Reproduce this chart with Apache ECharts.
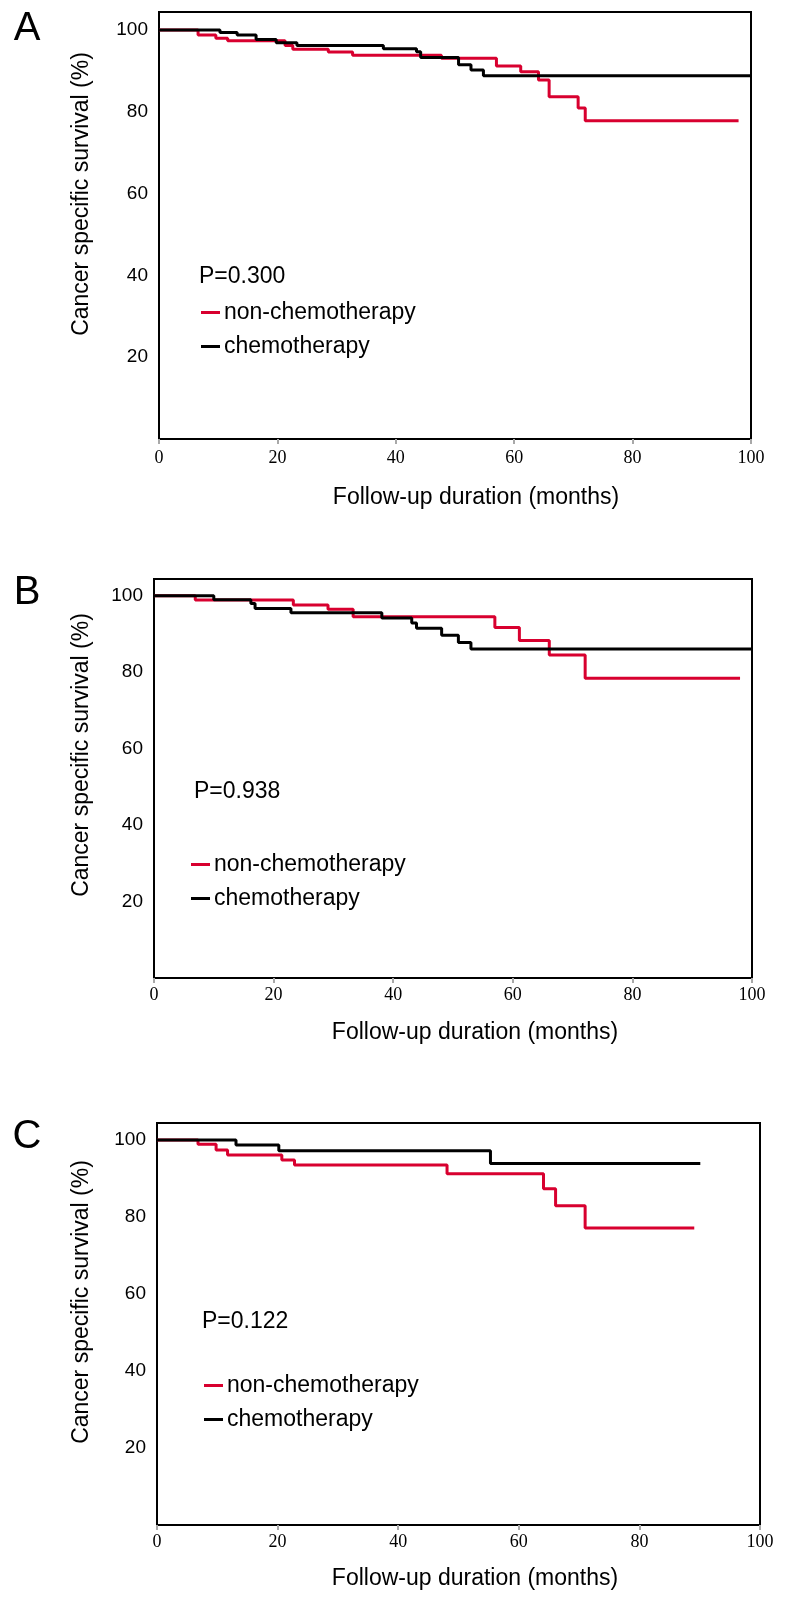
<!DOCTYPE html>
<html>
<head>
<meta charset="utf-8">
<script src="https://cdn.jsdelivr.net/npm/echarts@6/dist/echarts.min.js"></script>
<style>
  body { margin: 0; background: #fff; }
  #chart { width: 787px; height: 1603px; }
</style>
</head>
<body>
<div id="chart"></div>
<script>
const seriesNames = ['non-chemotherapy', 'chemotherapy'];
const panelLabels = ['A', 'B', 'C'];
const pValues = ['P=0.300', 'P=0.938', 'P=0.122'];
const xTitle = 'Follow-up duration (months)';
const yTitle = 'Cancer specific survival (%)';

// [month, survival %]
const nonChemoA = [[0,100],[6.6,98.8],[9.6,98.0],[11.6,97.4],[21.3,96.2],[22.6,95.3],[28.6,94.6],[32.7,93.8],[47.7,93.1],[57,91.2],[61.1,89.8],[64.1,87.8],[65.9,83.7],[70.8,80.9],[72.0,77.8],[97.9,77.8]];
const chemoA = [[0,100],[10.3,99.4],[13.2,98.8],[16.4,97.7],[19.8,96.9],[23.3,96.2],[37.9,95.4],[43.5,94.7],[44.2,93.3],[50.6,91.5],[52.7,90.2],[54.8,88.8],[100,88.8]];

const nonChemoB = [[0,100],[6.9,98.9],[23.3,97.6],[29.1,96.5],[33.3,94.5],[57.0,91.7],[61.1,88.3],[66.1,84.5],[72.1,78.4],[98.0,78.4]];
const chemoB = [[0,100],[10.0,99.0],[16.2,98.0],[16.9,96.7],[22.9,95.6],[38.1,94.2],[43.1,92.9],[43.9,91.5],[48.1,89.7],[50.9,87.8],[53.0,86.1],[100,86.1]];

const nonChemoC = [[0,100],[6.8,98.9],[9.8,97.4],[11.7,96.1],[20.7,94.8],[22.8,93.5],[48.1,91.2],[64.1,87.3],[66.1,82.9],[71.0,77.1],[89.1,77.1]];
const chemoC = [[0,100],[13.1,98.7],[20.2,97.2],[55.3,93.9],[90.1,93.9]];

const panelData = [[nonChemoA, chemoA], [nonChemoB, chemoB], [nonChemoC, chemoC]];

// layout of each panel (pixels)
const grids = [
  {left: 159, top: 12, width: 592, height: 427},
  {left: 154, top: 579, width: 598, height: 399},
  {left: 157, top: 1123, width: 603, height: 402}
];
const labelMargin = [10, 8, 8];
const legendPos = [{left: 201, top: 301}, {left: 191, top: 853}, {left: 204, top: 1374}];
const pPos = [[199, 277], [194, 792], [202, 1322]];
const letterPos = [[27, 29], [27, 593], [27, 1137]];
const yTitlePos = [[82, 194], [82, 755], [82, 1302]];
const xTitlePos = [[476, 498], [475, 1033], [475, 1579]];

const RED = '#d8002f';
const BLACK = '#000000';
const sans = 'Liberation Sans, Arial, sans-serif';
const serif = 'Liberation Serif, Times New Roman, serif';

const myChart = echarts.init(document.getElementById('chart'));

const xAxes = [], yAxes = [], series = [], legends = [], graphics = [];
for (let i = 0; i < 3; i++) {
  xAxes.push({
    type: 'value', gridIndex: i, min: 0, max: 100, interval: 20,
    axisLine: {show: true, lineStyle: {color: '#000', width: 2}},
    axisTick: {show: true, length: 5, lineStyle: {color: '#a8a8a8', width: 2}},
    axisLabel: {color: '#000', fontFamily: serif, fontSize: 18, margin: labelMargin[i]},
    splitLine: {show: false}
  });
  yAxes.push({
    type: 'value', gridIndex: i, min: 0, max: 104.4, interval: 20,
    axisLine: {show: true, lineStyle: {color: '#000', width: 2}},
    axisTick: {show: false},
    axisLabel: {
      color: '#000', fontFamily: sans, fontSize: 19, margin: 11,
      formatter: v => (v > 0 && v % 20 === 0) ? String(v) : ''
    },
    splitLine: {show: false}
  });
  const colors = [RED, BLACK];
  for (let j = 0; j < 2; j++) {
    series.push({
      name: seriesNames[j], type: 'line', step: 'end',
      xAxisIndex: i, yAxisIndex: i,
      data: panelData[i][j],
      symbol: 'none', color: colors[j],
      lineStyle: {color: colors[j], width: 3},
      z: 3 + j
    });
  }
  legends.push({
    data: seriesNames, orient: 'vertical',
    left: legendPos[i].left, top: legendPos[i].top,
    padding: 0, itemGap: 11, icon: 'rect', itemWidth: 19, itemHeight: 3,
    selectedMode: false,
    textStyle: {color: '#000', fontFamily: sans, fontSize: 23, padding: [0, 0, 0, -1]}
  });
  graphics.push({
    type: 'text', left: pPos[i][0], top: pPos[i][1] - 12,
    style: {text: pValues[i], fill: '#000', font: '23px ' + sans}
  });
  graphics.push({
    type: 'text', x: letterPos[i][0], y: letterPos[i][1],
    style: {text: panelLabels[i], fill: '#000', font: '40px ' + sans, align: 'center', verticalAlign: 'middle'}
  });
  graphics.push({
    type: 'text', x: yTitlePos[i][0], y: yTitlePos[i][1], rotation: Math.PI / 2,
    style: {text: yTitle, fill: '#000', font: '23px ' + sans, align: 'center', verticalAlign: 'middle'}
  });
  graphics.push({
    type: 'text', x: xTitlePos[i][0], y: xTitlePos[i][1],
    style: {text: xTitle, fill: '#000', font: '23px ' + sans, align: 'center', verticalAlign: 'middle'}
  });
}

myChart.setOption({
  animation: false,
  grid: grids.map(g => Object.assign({show: true, borderColor: '#000', borderWidth: 2, containLabel: false}, g)),
  xAxis: xAxes,
  yAxis: yAxes,
  legend: legends,
  series: series,
  graphic: graphics
});
</script>
</body>
</html>
